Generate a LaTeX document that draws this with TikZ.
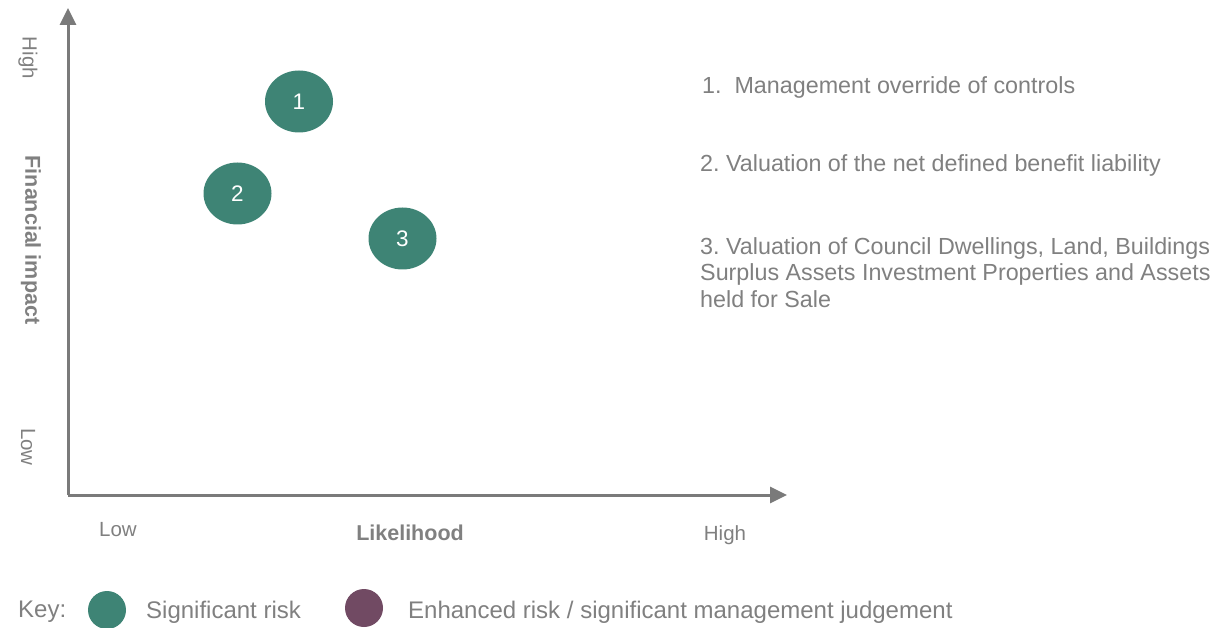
\documentclass[tikz,border=0pt]{standalone}
\usepackage{fontspec}
\setmainfont{Liberation Sans}
\frenchspacing
\usetikzlibrary{arrows.meta,shapes.geometric}
\definecolor{axisgray}{HTML}{7A7A7A}
\definecolor{txtgray}{HTML}{808080}
\definecolor{riskgreen}{HTML}{3E8475}
\definecolor{riskpurple}{HTML}{714A63}
\tikzset{
  axisline/.style={draw=axisgray, line width=3pt, -{Triangle[length=17pt,width=16pt]}},
  riskdot/.style={ellipse, fill=riskgreen, minimum width=68pt, minimum height=62pt, inner sep=0pt,
                  text=white, font=\fontsize{22.5}{26}\selectfont},
  keydot/.style={circle, minimum size=38pt, inner sep=0pt},
  lbl/.style={text=txtgray, font=\fontsize{20.5}{24}\selectfont, inner sep=0pt},
  boldlbl/.style={lbl, font=\fontsize{21.5}{24}\selectfont\bfseries},
  desc/.style={text=txtgray, font=\fontsize{23.3}{26.5}\selectfont, inner sep=0pt, anchor=west, align=left},
  keytxt/.style={desc, font=\fontsize{24}{26}\selectfont},
}
\begin{document}
\begin{tikzpicture}[x=1pt, y=-1pt]
  \useasboundingbox (0,0) rectangle (1231,628);

  % axes
  \coordinate (origin) at (68,495);
  \coordinate (ytop) at (68,8);
  \coordinate (xend) at (787,495);
  \draw[axisline] (origin) -- (ytop);
  \draw[axisline] (origin) -- (xend);

  % vertical axis labels
  \node[lbl, rotate=-90] (yhigh) at (28,58) {High};
  \node[boldlbl, rotate=-90] (ytitle) at (31,240) {Financial impact};
  \node[lbl, rotate=-90] (ylow) at (28,447) {Low};

  % horizontal axis labels
  \node[lbl] (xlow) at (118,530) {Low};
  \node[boldlbl] (xtitle) at (410,533) {Likelihood};
  \node[lbl] (xhigh) at (725,535) {High};

  % risks
  \node[riskdot] (r1) at (299,101.5) {1};
  \node[riskdot] (r2) at (237.5,193.5) {2};
  \node[riskdot] (r3) at (402.5,238.5) {3};

  % risk descriptions
  \node[desc] (d1) at (702,87) {1.\ \ Management override of controls};
  \node[desc] (d2) at (700,165) {2. Valuation of the net defined benefit liability};
  \node[desc, anchor=north west] (d3) at (700,237) {3. Valuation of Council Dwellings, Land, Buildings\\Surplus Assets Investment Properties and Assets\\held for Sale};

  % key
  \node[keytxt] (keylbl) at (18,612) {Key:};
  \node[keydot, fill=riskgreen] (k1) at (107,610) {};
  \node[keytxt] (k1txt) at (146,612) {Significant risk};
  \node[keydot, fill=riskpurple] (k2) at (364,608) {};
  \node[keytxt] (k2txt) at (408,612) {Enhanced risk / significant management judgement};
\end{tikzpicture}
\end{document}
